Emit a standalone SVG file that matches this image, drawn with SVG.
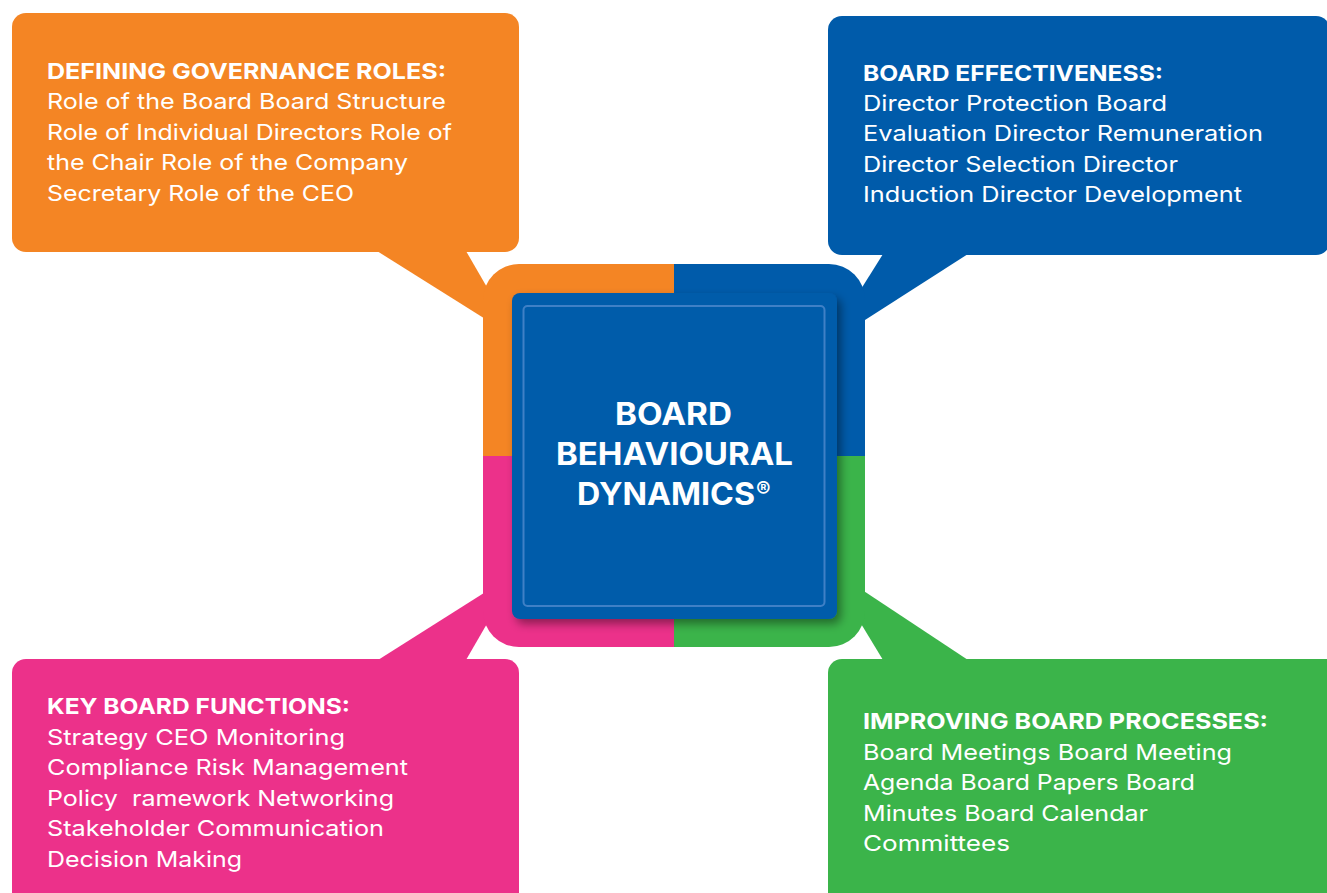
<svg xmlns="http://www.w3.org/2000/svg" width="1327" height="893" viewBox="0 0 1327 893">
  <style>
    .title { font-family: Inter, "Open Sans", "Liberation Sans", sans-serif; font-weight: 700; font-size: 22px; fill: #ffffff; }
    .body { font-family: Inter, "Open Sans", "Liberation Sans", sans-serif; font-weight: 400; font-size: 22px; fill: #ffffff; }
    .center { font-family: Inter, "Open Sans", "Liberation Sans", sans-serif; font-weight: 700; font-size: 31px; fill: #ffffff; }
    .reg { font-family: Inter, "Open Sans", "Liberation Sans", sans-serif; font-weight: 700; font-size: 22px; fill: #ffffff; }
    .orange { fill: #F48524; }
    .blue { fill: #005BAA; }
    .pink { fill: #EC318A; }
    .green { fill: #3BB44A; }
  </style>
  <defs>
    <clipPath id="ringClip">
      <rect x="483" y="264" width="382" height="383" rx="36" ry="36"/>
    </clipPath>
    <filter id="shadow" x="-10%" y="-10%" width="125%" height="125%">
      <feDropShadow dx="4" dy="5" stdDeviation="5" flood-color="#000000" flood-opacity="0.4"/>
    </filter>
  </defs>
  <rect width="1327" height="893" fill="#ffffff"/>

  <g id="connectors">
    <polygon class="orange" points="377,251 466,251 517,339"/>
    <polygon class="blue" points="883,254 968,254 826,345"/>
    <polygon class="pink" points="378,660 466,660 517,572"/>
    <polygon class="green" points="883,660 968,660 826,566"/>
  </g>

  <g id="center-ring" clip-path="url(#ringClip)">
    <rect class="orange" x="483" y="264" width="191" height="192"/>
    <rect class="blue" x="674" y="264" width="191" height="192"/>
    <rect class="pink" x="483" y="456" width="191" height="191"/>
    <rect class="green" x="674" y="456" width="191" height="191"/>
  </g>

  <g id="center">
    <rect x="512" y="293" width="325" height="326" rx="8" ry="8" fill="#005BAA" filter="url(#shadow)"/>
    <rect x="523.5" y="306" width="301" height="300" rx="4" ry="4" fill="none" stroke="#3F80C6" stroke-width="2"/>
    <text class="center" x="615" y="425" textLength="117" lengthAdjust="spacingAndGlyphs">BOARD</text>
    <text class="center" x="556" y="465" textLength="237" lengthAdjust="spacingAndGlyphs">BEHAVIOURAL</text>
    <text class="center" x="577" y="505" textLength="178" lengthAdjust="spacingAndGlyphs">DYNAMICS</text>
    <text class="reg" x="756" y="497">®</text>
  </g>

  <g id="defining-governance-roles">
    <rect class="orange" x="12" y="13" width="507" height="239" rx="14" ry="14"/>
    <text class="title" x="47" y="79" textLength="399" lengthAdjust="spacingAndGlyphs">DEFINING GOVERNANCE ROLES:</text>
    <text class="body" x="47" y="109" textLength="399" lengthAdjust="spacingAndGlyphs">Role of the Board Board Structure</text>
    <text class="body" x="47" y="140" textLength="405" lengthAdjust="spacingAndGlyphs">Role of Individual Directors Role of</text>
    <text class="body" x="47" y="170" textLength="361" lengthAdjust="spacingAndGlyphs">the Chair Role of the Company</text>
    <text class="body" x="47" y="201" textLength="307" lengthAdjust="spacingAndGlyphs">Secretary Role of the CEO</text>
  </g>

  <g id="board-effectiveness">
    <rect class="blue" x="828" y="16" width="502" height="239" rx="14" ry="14"/>
    <text class="title" x="863" y="81" textLength="300" lengthAdjust="spacingAndGlyphs">BOARD EFFECTIVENESS:</text>
    <text class="body" x="863" y="111" textLength="304" lengthAdjust="spacingAndGlyphs">Director Protection Board</text>
    <text class="body" x="863" y="141" textLength="400" lengthAdjust="spacingAndGlyphs">Evaluation Director Remuneration</text>
    <text class="body" x="863" y="172" textLength="315" lengthAdjust="spacingAndGlyphs">Director Selection Director</text>
    <text class="body" x="863" y="202" textLength="379" lengthAdjust="spacingAndGlyphs">Induction Director Development</text>
  </g>

  <g id="key-board-functions">
    <rect class="pink" x="12" y="659" width="507" height="260" rx="14" ry="14"/>
    <text class="title" x="47" y="714" textLength="303" lengthAdjust="spacingAndGlyphs">KEY BOARD FUNCTIONS:</text>
    <text class="body" x="47" y="745" textLength="298" lengthAdjust="spacingAndGlyphs">Strategy CEO Monitoring</text>
    <text class="body" x="47" y="775" textLength="361" lengthAdjust="spacingAndGlyphs">Compliance Risk Management</text>
    <text class="body" x="47" y="806" textLength="347" lengthAdjust="spacingAndGlyphs" xml:space="preserve">Policy  ramework Networking</text>
    <text class="body" x="47" y="836" textLength="337" lengthAdjust="spacingAndGlyphs">Stakeholder Communication</text>
    <text class="body" x="47" y="867" textLength="195" lengthAdjust="spacingAndGlyphs">Decision Making</text>
  </g>

  <g id="improving-board-processes">
    <rect class="green" x="828" y="659" width="520" height="260" rx="14" ry="14"/>
    <text class="title" x="863" y="729" textLength="405" lengthAdjust="spacingAndGlyphs">IMPROVING BOARD PROCESSES:</text>
    <text class="body" x="863" y="760" textLength="369" lengthAdjust="spacingAndGlyphs">Board Meetings Board Meeting</text>
    <text class="body" x="863" y="790" textLength="332" lengthAdjust="spacingAndGlyphs">Agenda Board Papers Board</text>
    <text class="body" x="863" y="821" textLength="285" lengthAdjust="spacingAndGlyphs">Minutes Board Calendar</text>
    <text class="body" x="863" y="851" textLength="147" lengthAdjust="spacingAndGlyphs">Committees</text>
  </g>
</svg>
